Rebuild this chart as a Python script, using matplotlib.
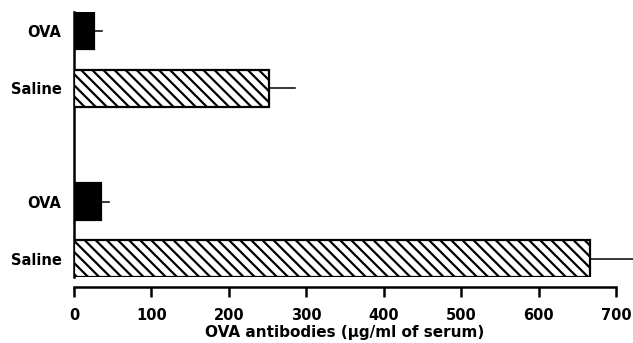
import matplotlib.pyplot as plt

# data (µg/ml of serum)
labels = ["OVA", "Saline", "OVA", "Saline"]
values = [26, 252, 35, 667]
errors = [10, 33, 10, 60]
filled = [True, False, True, False]
ypos = [3.94, 2.94, 0.98, 0.0]
xticks = list(range(0, 701, 100))

plt.rcParams['font.family'] = ['DejaVu Sans']
plt.rcParams['font.weight'] = 'bold'
plt.rcParams['axes.labelweight'] = 'bold'
plt.rcParams['hatch.linewidth'] = 1.6

fig = plt.figure(figsize=(6.33, 3.43), dpi=100)
ax = fig.add_axes([0.117, 0.192, 0.856, 0.773])

for y, v, e, f in zip(ypos, values, errors, filled):
    ax.barh(y, v, height=0.64, color='black' if f else 'white',
            edgecolor='black', linewidth=1.6, hatch=None if f else '\\\\\\',
            zorder=3)
    ax.plot([v, v + e], [y, y], color='black', lw=1.1, clip_on=False, zorder=2)

ax.set_xlim(0, 700)
ax.set_ylim(-0.32, 4.26)
ax.set_yticks(ypos)
ax.set_yticklabels(labels, fontsize=10.5)
ax.tick_params(axis='y', length=0, pad=9)
ax.set_xticks(xticks)
ax.tick_params(axis='x', length=7, width=1.8, pad=8, labelsize=10.5)
ax.spines['top'].set_visible(False)
ax.spines['right'].set_visible(False)
ax.spines['left'].set_linewidth(1.8)
ax.spines['bottom'].set_linewidth(1.8)
ax.spines['bottom'].set_position(('outward', 7))
ax.set_xlabel("OVA antibodies (µg/ml of serum)", fontsize=11, labelpad=2)

fig.savefig("out.png", dpi=100)
